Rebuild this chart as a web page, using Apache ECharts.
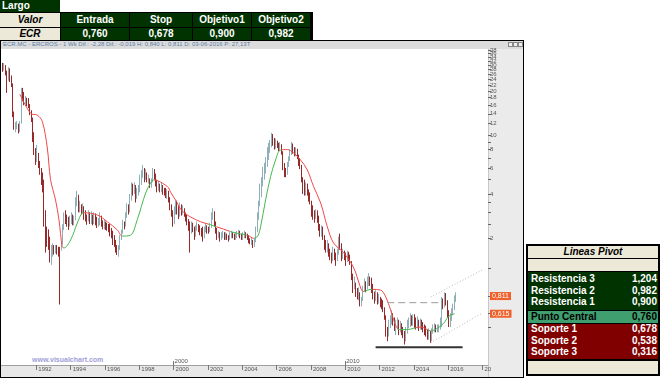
<!DOCTYPE html>
<html><head><meta charset="utf-8">
<script src="https://cdn.jsdelivr.net/npm/echarts@6/dist/echarts.min.js"></script>
<style>
html,body{margin:0;padding:0;width:660px;height:380px;overflow:hidden;background:#fff;}
body{position:relative;font-family:'Liberation Sans',Arial,Helvetica,sans-serif;}
.abs{position:absolute;box-sizing:border-box;}
.cell{position:absolute;box-sizing:border-box;display:flex;align-items:center;font-weight:bold;font-size:10px;line-height:1;white-space:nowrap;}
</style></head><body>
<div class="abs" style="left:0;top:40px;width:524px;height:338px;border:1px solid #000;"></div>
<div class="abs" style="left:1px;top:41px;width:522px;height:8px;background:#dcdcdc;"></div>
<div class="abs" id="info" style="left:3px;top:41px;font-size:6px;color:#5a7da6;white-space:nowrap;line-height:7px;"></div>
<div class="abs" style="left:508px;top:42px;width:5px;height:5px;border:1px solid #888;background:#eee;"></div>
<div class="abs" style="left:513px;top:42px;width:5px;height:5px;border:1px solid #888;background:#eee;"></div>
<div class="abs" style="left:518px;top:42px;width:5px;height:5px;border:1px solid #888;background:#eee;"></div>
<div class="abs" style="left:488px;top:49px;width:35px;height:328px;background:#ebebeb;border-left:1px solid #c8c8c8;"></div>
<div class="abs" style="left:1px;top:365px;width:487px;height:12px;background:#e8e8e8;border-top:1px solid #aaa;"></div>
<div class="abs" id="wm" style="left:32px;top:356px;font-size:7px;font-weight:bold;color:#a0a0d8;white-space:nowrap;"></div>
<div id="chart" class="abs" style="left:0;top:0;width:660px;height:380px;"></div>
<div id="tables"></div>
<script>
// ---------- DATA ----------
const firstYear = 1990; // monthly candles from January 1990
// [open, close, low, high]
const candles = [
// 1990
[29.5,28.5,27,31],[28.5,29.5,27.5,31],[29.5,26.5,25.5,30],[26.5,24,19.4,27.5],[24,27.5,23.5,29],[27.5,25,23,28.5],[25,22,21.3,25.5],[22,14,13.3,22.5],[14,11.5,10.9,14.5],[11.5,11.5,10.5,12.3],[11.5,11.8,11,12.5],[11.8,10.8,10.3,12],
// 1991
[10.8,12,10.5,12.5],[12,19,12,21],[19,18,17,21],[18,17,16,19.7],[17,17.5,16.2,18.5],[17.5,16.5,15.8,18],[16.5,16,15.3,17.9],[16,14.5,13.7,16.3],[14.5,13,12.3,14.8],[13,9.5,9,13.2],[9.5,8,7.35,10.5],[8,7,6.3,8.2],
// 1992
[7,7.5,6.6,8.6],[7.5,6.5,6,7.6],[6.5,5.8,5.4,6.7],[5.8,5,4.6,6],[5,4.8,4.1,5.6],[4.8,2.6,2.4,5],[2.6,2.2,1.6,3.1],[2.2,2.1,1.75,2.4],[2.1,2.0,1.67,2.3],[2.0,1.6,1.37,2.05],[1.6,1.7,1.32,1.8],[1.7,1.7,1.5,1.85],
// 1993
[1.7,1.65,1.55,1.8],[1.65,1.7,1.58,1.8],[1.7,1.65,1.55,1.8],[1.65,1.6,1.5,1.75],[1.65,0.75,0.71,1.75],[1.75,1.85,1.65,1.9],[1.85,2.4,1.82,2.5],[2.4,2.8,2.28,3.0],[2.8,2.7,2.5,3.1],[2.7,2.6,2.4,2.9],[2.6,2.5,2.28,2.8],[2.5,2.7,2.4,2.85],
// 1994
[2.7,2.8,2.5,3.0],[2.8,2.6,2.45,2.9],[2.6,2.7,2.45,2.85],[2.7,3.4,2.65,3.8],[3.4,3.9,3.3,4.2],[3.9,3.2,3.0,3.95],[3.2,3.3,3.0,3.6],[3.3,3.1,2.9,3.4],[3.1,3.2,2.95,3.45],[3.2,2.9,2.67,3.3],[2.9,2.8,2.6,3.1],[2.8,2.7,2.47,2.9],
// 1995
[2.7,2.9,2.6,3.1],[2.9,2.7,2.5,3.0],[2.7,2.8,2.5,3.05],[2.8,2.6,2.45,2.9],[2.6,2.8,2.5,3.0],[2.8,2.7,2.45,2.95],[2.7,2.5,2.35,2.8],[2.5,2.55,2.4,2.75],[2.55,2.75,2.45,3.0],[2.75,2.5,2.4,2.85],[2.5,2.45,2.3,2.65],[2.45,2.5,2.3,2.7],
// 1996
[2.5,2.4,2.28,2.6],[2.4,2.35,2.25,2.55],[2.35,2.3,2.2,2.5],[2.3,2.2,2.06,2.5],[2.2,2.1,2.0,2.35],[2.1,1.95,1.8,2.25],[1.95,1.85,1.75,2.1],[1.85,1.75,1.6,1.95],[1.75,1.6,1.54,1.8],[1.6,1.7,1.5,1.8],[1.7,2.0,1.67,2.1],[2.0,2.2,1.95,2.28],
// 1997
[2.2,2.5,2.15,2.67],[2.5,2.45,2.3,2.6],[2.45,2.8,2.4,3.0],[2.8,3.3,2.75,3.45],[3.3,3.1,2.9,3.4],[3.1,3.8,3.0,4.0],[3.8,4.3,3.6,4.8],[4.3,4.2,3.9,4.7],[4.2,4.5,4.0,4.8],[4.5,4.0,3.5,4.6],[4.0,4.1,3.7,4.4],[4.1,4.4,3.9,4.6],
// 1998
[4.4,4.9,4.1,5.4],[4.9,5.4,4.6,5.8],[5.4,5.9,5.15,6.3],[5.9,5.4,4.8,6.0],[5.4,5.5,5.0,5.9],[5.5,5.0,4.8,5.6],[5.0,5.1,4.7,5.4],[5.1,4.6,4.4,5.1],[4.6,4.9,4.4,5.1],[4.9,5.7,4.8,6.0],[5.7,5.4,5.0,5.9],[5.4,4.8,4.5,5.5],
// 1999
[4.8,4.4,4.1,5.0],[4.4,4.6,4.2,4.9],[4.6,4.3,4.1,4.7],[4.3,4.5,4.1,4.8],[4.5,4.2,3.95,4.6],[4.2,4.1,3.9,4.4],[4.1,3.9,3.75,4.4],[3.9,4.0,3.7,4.3],[4.0,3.7,3.5,4.2],[3.7,3.3,3.1,3.8],[3.3,3.0,2.8,3.4],[3.0,2.6,2.4,3.1],
// 2000
[2.6,3.0,2.5,3.3],[3.0,3.3,2.9,3.6],[3.3,3.1,2.9,3.6],[3.1,2.9,2.7,3.3],[2.9,3.2,2.8,3.5],[3.2,3.0,2.85,3.4],[3.0,3.1,2.9,3.35],[3.1,2.9,2.8,3.2],[2.9,2.75,2.6,3.0],[2.75,2.6,2.45,2.9],[2.6,2.4,2.25,2.7],[2.4,2.2,1.6,2.6],
// 2001
[2.2,2.5,2.15,2.6],[2.5,2.3,2.2,2.55],[2.3,2.1,1.95,2.4],[2.1,2.3,2.05,2.45],[2.3,2.45,2.25,2.6],[2.45,2.3,2.2,2.5],[2.3,2.25,2.1,2.45],[2.25,2.15,2.05,2.35],[2.15,2.05,1.9,2.4],[2.05,2.25,2.0,2.4],[2.25,2.4,2.2,2.55],[2.4,2.3,2.15,2.45],
// 2002
[2.3,2.25,2.15,2.4],[2.25,2.4,2.2,2.55],[2.4,2.8,2.35,3.0],[2.8,3.0,2.67,3.2],[3.0,2.55,2.4,3.05],[2.55,2.3,2.15,2.6],[2.3,2.1,1.95,2.35],[2.1,2.15,2.0,2.25],[2.15,2.05,1.9,2.2],[2.05,2.1,1.95,2.2],[2.1,2.15,2.0,2.25],[2.15,2.05,1.95,2.2],
// 2003
[2.05,2.1,1.95,2.2],[2.1,2.05,1.95,2.15],[2.05,2.0,1.9,2.1],[2.0,2.1,1.95,2.2],[2.1,2.15,2.0,2.25],[2.15,2.1,2.0,2.2],[2.1,2.05,1.95,2.15],[2.05,2.1,1.95,2.2],[2.1,2.15,2.0,2.25],[2.15,2.2,2.05,2.28],[2.2,2.1,2.0,2.25],[2.1,2.05,1.95,2.15],
// 2004
[2.05,2.1,1.95,2.2],[2.1,2.15,2.0,2.25],[2.15,2.1,2.0,2.2],[2.1,2.05,1.95,2.15],[2.05,1.95,1.85,2.1],[1.95,1.9,1.82,2.0],[1.9,1.95,1.8,2.05],[1.95,1.8,1.72,1.95],[1.8,1.9,1.75,2.0],[1.9,2.25,1.88,2.4],[2.25,2.7,2.2,3.0],[2.7,3.3,2.67,3.6],
// 2005
[3.3,4.2,3.3,4.7],[4.2,4.5,3.8,5.2],[4.5,5.5,4.5,6.1],[5.5,5.8,5.0,6.5],[5.8,6.4,5.5,7.1],[6.4,7.6,6.1,8.3],[7.6,8.3,6.8,8.9],[8.3,8.8,7.6,9.3],[8.8,9.8,8.3,10.4],[9.8,9.5,8.5,10.2],[9.5,8.6,8.0,9.6],[8.6,9.0,8.1,9.5],
// 2006
[9.0,8.5,8.2,9.2],[8.5,8.2,7.8,8.9],[8.2,8.6,7.8,9.0],[8.6,7.8,7.4,8.7],[7.8,6.5,5.8,7.8],[6.5,5.6,5.2,6.5],[5.6,5.5,5.2,6.0],[5.5,6.2,5.4,6.6],[6.2,6.9,6.1,7.2],[6.9,7.5,6.7,8.0],[7.5,8.2,7.35,9.0],[8.2,8.0,7.5,8.8],
// 2007
[8.0,7.6,7.2,8.3],[7.6,7.9,7.2,8.3],[7.9,7.2,6.9,8.1],[7.2,6.6,6.2,7.4],[6.6,6.2,5.9,7.0],[6.2,5.2,4.8,6.3],[5.2,4.6,4.0,5.2],[4.6,4.3,3.9,5.0],[4.3,4.4,3.9,4.8],[4.4,4.2,3.9,4.7],[4.2,3.8,3.55,4.3],[3.8,3.6,3.4,4.1],
// 2008
[3.6,3.0,2.8,3.6],[3.0,2.9,2.67,3.35],[2.9,2.75,2.55,3.1],[2.75,3.0,2.7,3.15],[3.0,2.8,2.55,3.1],[2.8,2.4,2.25,2.85],[2.4,2.2,2.05,2.5],[2.2,2.3,2.05,2.45],[2.3,2.05,1.95,2.4],[2.05,1.75,1.67,2.1],[1.75,1.7,1.6,1.95],[1.7,1.8,1.6,1.95],
// 2009
[1.8,1.6,1.5,1.85],[1.6,1.5,1.42,1.7],[1.5,1.45,1.35,1.6],[1.45,1.6,1.4,1.75],[1.6,1.55,1.42,1.7],[1.55,1.45,1.3,1.6],[1.45,1.6,1.4,1.7],[1.6,1.9,1.55,2.05],[1.9,1.8,1.67,2.15],[1.8,1.55,1.4,1.85],[1.55,1.6,1.45,1.7],[1.6,1.5,1.42,1.65],
// 2010
[1.5,1.45,1.3,1.6],[1.45,1.55,1.38,1.65],[1.55,1.5,1.4,1.62],[1.5,1.4,1.32,1.55],[1.4,1.15,1.04,1.4],[1.15,0.95,0.85,1.15],[0.95,1.0,0.9,1.1],[1.0,0.88,0.8,1.0],[0.88,0.82,0.77,0.92],[0.82,0.85,0.76,0.93],[0.85,0.74,0.69,0.86],[0.74,0.76,0.69,0.8],
// 2011
[0.76,0.9,0.75,0.95],[0.9,0.98,0.87,1.07],[0.98,0.92,0.86,1.02],[0.92,1.02,0.9,1.1],[1.02,1.08,0.95,1.16],[1.08,1.0,0.95,1.1],[1.0,0.95,0.85,1.08],[0.95,0.82,0.77,0.98],[0.82,0.8,0.72,0.87],[0.8,0.84,0.75,0.89],[0.84,0.76,0.71,0.86],[0.76,0.78,0.72,0.84],
// 2012
[0.78,0.72,0.68,0.8],[0.72,0.7,0.66,0.78],[0.7,0.66,0.63,0.76],[0.66,0.6,0.56,0.68],[0.6,0.46,0.43,0.6],[0.46,0.44,0.4,0.5],[0.44,0.52,0.43,0.56],[0.52,0.56,0.49,0.6],[0.56,0.6,0.52,0.65],[0.6,0.55,0.51,0.62],[0.55,0.5,0.47,0.58],[0.5,0.52,0.44,0.56],
// 2013
[0.52,0.55,0.48,0.58],[0.55,0.48,0.44,0.56],[0.48,0.52,0.46,0.55],[0.52,0.47,0.44,0.53],[0.47,0.45,0.42,0.5],[0.45,0.41,0.38,0.47],[0.41,0.46,0.4,0.5],[0.46,0.52,0.45,0.56],[0.52,0.55,0.49,0.58],[0.55,0.58,0.5,0.62],[0.58,0.55,0.51,0.6],[0.55,0.57,0.51,0.61],
// 2014
[0.57,0.54,0.49,0.61],[0.54,0.51,0.48,0.58],[0.51,0.55,0.49,0.59],[0.55,0.5,0.47,0.56],[0.5,0.53,0.48,0.57],[0.53,0.51,0.48,0.56],[0.51,0.49,0.46,0.54],[0.49,0.47,0.44,0.52],[0.47,0.46,0.43,0.51],[0.46,0.43,0.41,0.48],[0.43,0.45,0.41,0.49],[0.45,0.42,0.39,0.47],
// 2015
[0.42,0.46,0.4,0.49],[0.46,0.49,0.45,0.52],[0.49,0.5,0.46,0.53],[0.5,0.48,0.46,0.52],[0.48,0.49,0.46,0.52],[0.49,0.5,0.46,0.52],[0.5,0.56,0.48,0.58],[0.56,0.72,0.5,0.8],[0.72,0.7,0.66,0.78],[0.7,0.8,0.68,0.86],[0.8,0.75,0.7,0.85],[0.75,0.62,0.58,0.76],
// 2016
[0.62,0.55,0.5,0.65],[0.55,0.58,0.5,0.62],[0.58,0.64,0.55,0.67],[0.64,0.68,0.6,0.72],[0.68,0.78,0.65,0.82],[0.78,0.811,0.74,0.86]
];
// moving average: [year, value]
const maPoints = [
[1991.04,19.0],[1991.67,14.1],[1992.06,13.7],[1992.35,12.4],[1992.64,8.2],[1992.83,5.0],[1993.12,3.64],[1993.32,2.67],[1993.51,1.75],[1993.61,1.72],
[1994.0,1.95],[1994.39,2.54],[1994.68,2.97],[1994.77,2.98],[1995.55,2.88],[1996.14,2.59],[1996.72,2.28],[1997.01,2.07],[1997.49,2.1],[1997.88,2.67],
[1998.37,4.06],[1998.66,4.74],[1998.83,4.98],[1999.63,4.5],[1999.83,4.1],[2000.22,3.47],[2000.41,3.14],[2000.8,2.88],[2000.99,2.79],[2001.57,2.59],
[2002.16,2.47],[2002.51,2.39],[2002.91,2.31],[2003.32,2.22],[2003.9,2.14],[2004.31,2.1],[2004.66,2.0],[2004.9,2.07],[2005.07,2.4],[2005.36,3.64],
[2005.65,5.24],[2005.94,6.8],[2006.23,7.95],[2006.63,8.0],[2006.99,7.6],[2007.4,6.8],[2007.79,5.82],[2008.16,4.48],[2008.57,3.47],[2008.96,2.39],
[2009.32,1.86],[2009.9,1.6],[2010.31,1.38],[2010.6,1.18],[2010.9,0.92],[2011.07,0.87],[2011.31,0.89],[2011.58,0.9],[2012.06,0.89],[2012.36,0.8],
[2012.65,0.65],[2012.82,0.56],[2013.04,0.49],[2013.23,0.48],[2013.62,0.48],[2013.99,0.49],[2014.4,0.5],[2014.79,0.48],[2014.98,0.47],[2015.37,0.49],
[2015.74,0.53],[2016.03,0.59],[2016.38,0.615]
];
const maRisingPeriods = [[1993.55,1994.77],[1997.01,1998.83],[2002.05,2002.45],[2003.3,2004.3],[2004.66,2006.3],[2011.1,2011.55],[2013.1,2014.1],[2014.9,2016.5]];
const supportLine = [[2011.77,0.364],[2016.84,0.364]];
const resistanceDash = [[2012.45,0.731],[2015.56,0.731]];
const channelUpper = [[2014.98,0.80],[2017.99,1.22]];
const channelLower = [[2014.98,0.39],[2017.99,0.622]];
const yLabelValues = [2,4,6,8,10,12,14,16,18,20,22,24,26,28,30,32,34,36,38,40];
const yMinorTicks = [0.5,1.25,2.5,3,3.5,5,7,9];
const xTickYears = [1992,1994,1996,1998,2000,2002,2004,2006,2008,2010,2012,2014,2016,2018];
const xTickLabels = ['1992','1994','1996','1998','2000','2002','2004','2006','2008','2010','2012','2014','2016','20'];
const decadeYears = [2000,2010];
const decadeLabels = ['2000','2010'];
const infoText = 'ECR.MC - ERCROS - 1 Wk Dif.: -2,28 Dif.: -0,019 H: 0,840 L: 0,811 D: 03-06-2016 P: 27,13T';
const watermark = 'www.visualchart.com';
const titleLabel = 'Largo';
const tradeHeaders = ['Valor','Entrada','Stop','Objetivo1','Objetivo2'];
const tradeRow = ['ECR','0,760','0,678','0,900','0,982'];
const pivotTitle = 'Lineas Pivot';
const pivotLabels = ['Resistencia 3','Resistencia 2','Resistencia 1','Punto Central','Soporte 1','Soporte 2','Soporte 3'];
const pivotValues = ['1,204','0,982','0,900','0,760','0,678','0,538','0,316'];

// ---------- HTML TEXT / TABLES ----------
document.getElementById('info').textContent = infoText;
document.getElementById('wm').textContent = watermark;
const T = document.getElementById('tables');
function box(x, y, w, h, bg, txt, css) {
  const d = document.createElement('div');
  d.className = 'cell';
  d.style.cssText = `left:${x}px;top:${y}px;width:${w}px;height:${h}px;background:${bg};` + (css || '');
  if (txt != null) d.textContent = txt;
  T.appendChild(d); return d;
}
const DG = '#003300', BEIGE = '#ece9d8', DR = '#800000', MG = '#3f9f6f';
box(0, 0, 60, 12, DG, titleLabel, 'color:#fff;padding-left:2px;');
box(0, 12, 313, 29, '#000', null);
const cols = [[0,60],[61,129],[130,192],[193,251],[252,310]];
cols.forEach((c, i) => {
  const w = c[1] - c[0];
  const beige = i === 0;
  const st = 'justify-content:center;' + (beige ? 'color:#000;font-style:italic;' : 'color:#fff;');
  box(c[0], 13, w, 14, beige ? BEIGE : DG, tradeHeaders[i], st);
  box(c[0], 28, w, 12, beige ? BEIGE : DG, tradeRow[i], st);
});
// pivot table
box(526, 244, 134, 132, '#000', null);
box(528, 246, 130, 12, BEIGE, pivotTitle, 'justify-content:center;color:#000;font-style:italic;');
box(528, 259, 130, 12, BEIGE, null);
box(528, 272, 130, 37.5, DG, null);
box(528, 311, 130, 11.5, MG, null);
box(528, 323.5, 130, 35, DR, null);
box(528, 361, 130, 13, BEIGE, null);
const rowTops = [273.5, 285, 296.5, 311, 323.5, 335, 346.5];
pivotLabels.forEach((lab, i) => {
  const col = i === 3 ? '#000' : '#fff';
  box(531, rowTops[i], 126, 11.5, 'transparent', null, 'justify-content:space-between;color:' + col + ';');
  const r = T.lastChild;
  const a = document.createElement('span'); a.textContent = lab;
  const b = document.createElement('span'); b.textContent = pivotValues[i];
  r.appendChild(a); r.appendChild(b);
});

// ---------- CHART ----------
const dates = candles.map((_, i) => firstYear + (i + 0.5) / 12);
const candleData = candles.map((c, i) => [dates[i], c[0], c[1], c[2], c[3]]);
const lastClose = candles[candles.length - 1][1];
const lastMA = maPoints[maPoints.length - 1][1];
const markerValues = [lastClose, lastMA];
const yMin = 0.276, yMax = 40.4, xMin = 1990, xMax = 2018.32;
const fmtComma = v => v.toFixed(3).replace('.', ',');

const chart = echarts.init(document.getElementById('chart'), null, {renderer: 'canvas'});
chart.setOption({
  animation: false,
  backgroundColor: 'transparent',
  textStyle: {fontFamily: "'Liberation Sans', Arial, sans-serif"},
  grid: {left: 2, top: 46, width: 486, height: 319, containLabel: false, outerBoundsMode: 'none'},
  xAxis: [{
    type: 'value', min: xMin, max: xMax, position: 'bottom',
    axisLine: {show: true, lineStyle: {color: '#a0a0a0', width: 1}},
    axisTick: {show: true, length: 5, customValues: xTickYears, lineStyle: {color: '#777'}},
    axisLabel: {customValues: xTickYears, fontSize: 6, color: '#555', align: 'left', margin: 1, padding: [0, 0, 0, 2],
      formatter: v => { const k = xTickYears.indexOf(Math.round(v)); return k >= 0 ? xTickLabels[k] : ''; }},
    splitLine: {show: false}
  }, {
    type: 'value', min: xMin, max: xMax, position: 'bottom',
    axisLine: {show: false},
    axisTick: {show: true, inside: true, length: 4, customValues: decadeYears, lineStyle: {color: '#777'}},
    axisLabel: {inside: true, customValues: decadeYears, fontSize: 6, color: '#555', align: 'left', margin: 1, padding: [0, 0, 0, 1],
      formatter: v => { const k = decadeYears.indexOf(Math.round(v)); return k >= 0 ? decadeLabels[k] : ''; }},
    splitLine: {show: false}
  }],
  yAxis: [{
    type: 'log', logBase: 10, min: yMin, max: yMax, position: 'right',
    axisLine: {show: false},
    axisTick: {show: true, length: 3, customValues: yLabelValues.concat(yMinorTicks), lineStyle: {color: '#666'}},
    axisLabel: {customValues: yLabelValues, fontSize: 6, color: '#555', margin: 2, hideOverlap: false, formatter: v => String(Math.round(v))},
    splitLine: {show: false}
  }, {
    type: 'log', logBase: 10, min: yMin, max: yMax, position: 'right',
    axisLine: {show: false},
    axisTick: {show: true, length: 3, customValues: markerValues, lineStyle: {color: '#666'}},
    axisLabel: {customValues: markerValues, fontSize: 7, color: '#fff', margin: 2, hideOverlap: false,
      backgroundColor: '#f0602a', padding: [1, 2, 0, 2], formatter: v => fmtComma(v)},
    splitLine: {show: false}
  }],
  visualMap: {
    type: 'piecewise', show: false, seriesIndex: 1, dimension: 0,
    pieces: maRisingPeriods.map(p => ({gte: p[0], lte: p[1], color: '#44b84e'})),
    outOfRange: {color: '#f04848'}
  },
  series: [{
    type: 'candlestick', name: 'ECR', xAxisIndex: 0, yAxisIndex: 0,
    data: candleData, encode: {x: 0, y: [1, 2, 3, 4]},
    itemStyle: {color: '#6f9aa4', color0: '#8b1313', borderColor: '#8fb0b8', borderColor0: '#962a2a', borderWidth: 1},
    barWidth: '80%', barMaxWidth: 2
  }, {
    type: 'line', name: 'MA', xAxisIndex: 0, yAxisIndex: 0, data: maPoints,
    symbol: 'none', smooth: 0.35, lineStyle: {width: 1}, z: 3
  }, {
    type: 'line', data: supportLine, symbol: 'none', lineStyle: {color: '#333', width: 2}, z: 4
  }, {
    type: 'line', data: resistanceDash, symbol: 'none', lineStyle: {color: '#9a9a9a', width: 1, type: [7, 4]}, z: 4
  }, {
    type: 'line', data: channelUpper, symbol: 'none', lineStyle: {color: '#b8b8b8', width: 1, type: [1, 2]}, z: 4
  }, {
    type: 'line', data: channelLower, symbol: 'none', lineStyle: {color: '#b8b8b8', width: 1, type: [1, 2]}, z: 4
  }]
});
</script>
</body></html>
